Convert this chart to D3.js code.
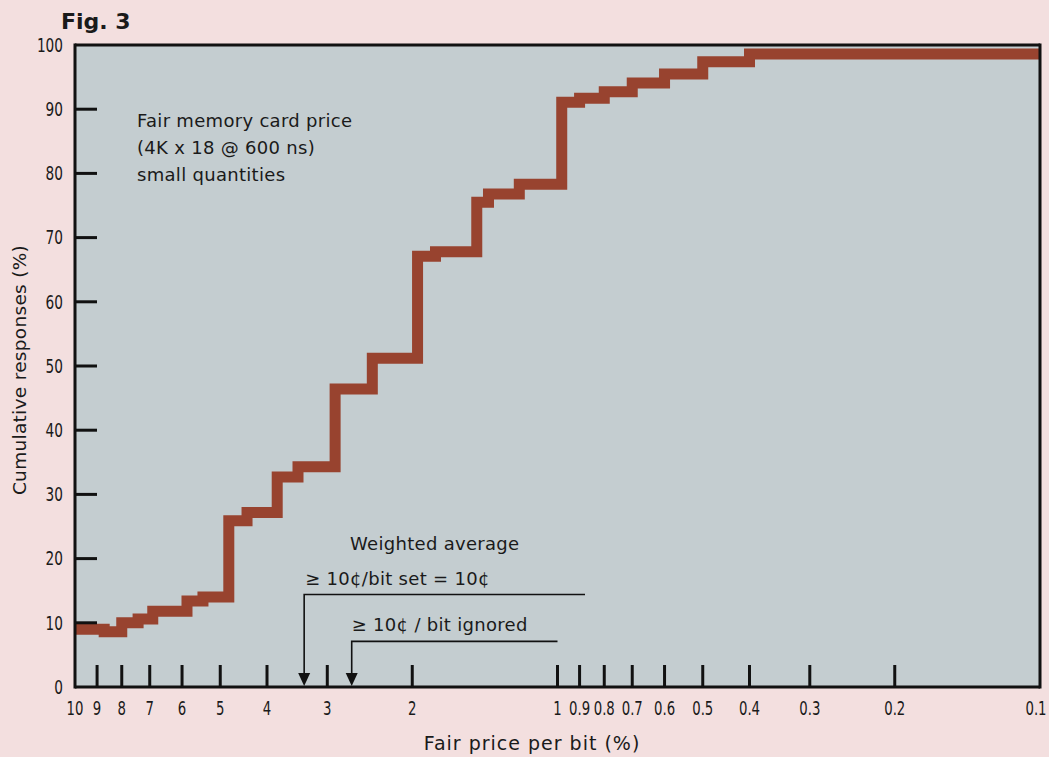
<!DOCTYPE html>
<meta charset="utf-8">
<head>
<style>
body {
  margin: 0;
  background: #f3dfdf;
}
text {
  font-family: "DejaVu Sans", sans-serif;
  fill: #1a1a1a;
}
.tick-label {
  font-family: "DejaVu Sans", sans-serif;
  font-size: 19px;
}
.frame line {
  stroke: #111;
  stroke-width: 3px;
}
.step {
  fill: none;
  stroke: #98432f;
  stroke-width: 11px;
  stroke-linejoin: miter;
  stroke-linecap: butt;
}
.note {
  font-size: 18px;
  letter-spacing: 0.3px;
}
</style>
<script src="https://cdn.jsdelivr.net/npm/d3@7"></script>
</head>
<body>
<div id="chart"></div>
<script>

// step curve: price breakpoints (% per bit), level holds until the next breakpoint
var stepPrice = [10, 8.7, 8.0, 7.4, 6.9, 5.86, 5.43, 4.8, 4.4, 3.81, 3.45, 2.89, 2.42, 1.95, 1.79, 1.47, 1.39, 1.20, 0.98, 0.9, 0.8, 0.7, 0.6, 0.5, 0.4];
var stepLevel = [9.0, 8.6, 10.0, 10.6, 11.8, 13.4, 14.0, 25.9, 27.2, 32.7, 34.3, 46.4, 51.2, 67.1, 67.8, 75.5, 76.8, 78.3, 91.1, 91.7, 92.7, 94.1, 95.5, 97.4, 98.6];
var endPrice = 0.1;

var xTicks = [10, 9, 8, 7, 6, 5, 4, 3, 2, 1, 0.9, 0.8, 0.7, 0.6, 0.5, 0.4, 0.3, 0.2, 0.1];
var xTickLabels = ["10", "9", "8", "7", "6", "5", "4", "3", "2", "1", "0.9", "0.8", "0.7", "0.6", "0.5", "0.4", "0.3", "0.2", "0.1"];
var yTicks = [0, 10, 20, 30, 40, 50, 60, 70, 80, 90, 100];

// weighted averages and the reach of their label lines
var avgNames = ["\u2265 10\u00a2/bit set = 10\u00a2", "\u2265 10\u00a2 / bit ignored"];
var avgPrice = [3.35, 2.67];
var avgLineEnd = [0.877, 1.0];
var avgLineLevel = [14.4, 7.1];

var noteLines = ["Fair memory card price", "(4K x 18 @ 600 ns)", "small quantities"];

var margin = {top: 45, right: 9, bottom: 70, left: 75},
  width = 1049 - margin.left - margin.right,
  height = 757 - margin.top - margin.bottom;

var svg = d3.select("#chart").append("svg")
  .attr("width", 1049)
  .attr("height", 757)
  .style("display", "block");

svg.append("rect")
  .attr("width", 1049).attr("height", 757)
  .attr("fill", "#f3dfdf");

var g = svg.append("g")
  .attr("transform", "translate(" + margin.left + "," + margin.top + ")");

var x = d3.scaleLog()
  .domain([10, 0.1])
  .range([0, width]);

var y = d3.scaleLinear()
  .domain([0, 100])
  .range([height, 0]);

g.append("rect")
  .attr("width", width)
  .attr("height", height)
  .attr("fill", "#c4cdd0");

////Step curve
var pts = [];
stepPrice.forEach(function(p, i) {
  var next = i < stepPrice.length - 1 ? stepPrice[i + 1] : endPrice;
  pts.push([p, stepLevel[i]]);
  pts.push([next, stepLevel[i]]);
});

var line = d3.line()
  .x(function(d) { return x(d[0]); })
  .y(function(d) { return y(d[1]); });

g.append("path")
  .attr("class", "step")
  .attr("d", line(pts));

////Frame and ticks
var frame = g.append("g").attr("class", "frame");
frame.append("line").attr("x1", 0).attr("x2", 0).attr("y1", -1.5).attr("y2", height + 1.5);
frame.append("line").attr("x1", width).attr("x2", width).attr("y1", -1.5).attr("y2", height + 1.5);
frame.append("line").attr("x1", 0).attr("x2", width).attr("y1", 0).attr("y2", 0);
frame.append("line").attr("x1", 0).attr("x2", width).attr("y1", height).attr("y2", height);

frame.selectAll(".ytick")
  .data(yTicks.filter(function(d) { return d > 0 && d < 100; }))
  .enter().append("line")
    .attr("x1", 0).attr("x2", 22)
    .attr("y1", function(d) { return y(d); })
    .attr("y2", function(d) { return y(d); });

frame.selectAll(".xtick")
  .data(xTicks.filter(function(d) { return d < 10 && d > 0.1; }))
  .enter().append("line")
    .attr("x1", function(d) { return x(d); })
    .attr("x2", function(d) { return x(d); })
    .attr("y1", height).attr("y2", height - 22);

// condensed tick labels (squeezed horizontally like the lettering in the figure)
g.selectAll(".ylab")
  .data(yTicks)
  .enter().append("text")
    .attr("class", "tick-label")
    .attr("transform", function(d) { return "translate(-12," + y(d) + ") scale(0.72,1)"; })
    .attr("dy", "0.36em")
    .attr("text-anchor", "end")
    .text(function(d) { return d; });

g.selectAll(".xlab")
  .data(xTicks)
  .enter().append("text")
    .attr("class", "tick-label")
    .attr("transform", function(d, i) {
      var nudge = i === xTicks.length - 1 ? -4 : 0;   // keep the last label inside the page
      return "translate(" + (x(d) + nudge) + "," + (height + 28) + ") scale(0.7,1)";
    })
    .attr("text-anchor", "middle")
    .text(function(d, i) { return xTickLabels[i]; });

////Axis titles
svg.append("text")
  .attr("x", 532).attr("y", 750)
  .attr("text-anchor", "middle")
  .style("font-size", "19px")
  .style("letter-spacing", "1px")
  .text("Fair price per bit (%)");

svg.append("text")
  .attr("transform", "translate(26," + (margin.top + y(50) + 4) + ") rotate(-90)")
  .attr("text-anchor", "middle")
  .style("font-size", "18.5px")
  .style("letter-spacing", "0.3px")
  .text("Cumulative responses (%)");

svg.append("text")
  .attr("x", 61).attr("y", 29)
  .style("font-size", "22px")
  .style("font-weight", "bold")
  .text("Fig. 3");

////Note
g.selectAll(".note1")
  .data(noteLines)
  .enter().append("text")
    .attr("class", "note")
    .attr("x", 62)
    .attr("y", function(d, i) { return 82 + i * 27; })
    .text(function(d) { return d; });

////Weighted average arrows
g.append("text")
  .attr("class", "note")
  .attr("x", 275).attr("y", 505)
  .text("Weighted average");

avgPrice.forEach(function(p, i) {
  var xs = x(p), ys = y(avgLineLevel[i]);
  g.append("path")
    .attr("d", "M" + x(avgLineEnd[i]) + "," + ys + "H" + xs + "V" + (height - 12))
    .attr("fill", "none")
    .attr("stroke", "#111")
    .attr("stroke-width", 1.6);
  g.append("path")
    .attr("d", "M" + (xs - 6) + "," + (height - 14) + "L" + (xs + 6) + "," + (height - 14) + "L" + xs + "," + (height - 1) + "Z")
    .attr("fill", "#111");
  g.append("text")
    .attr("class", "note")
    .attr("x", xs + (i === 0 ? 1 : 0))
    .attr("y", ys - 10)
    .text(avgNames[i]);
});

</script>
</body>
</html>
